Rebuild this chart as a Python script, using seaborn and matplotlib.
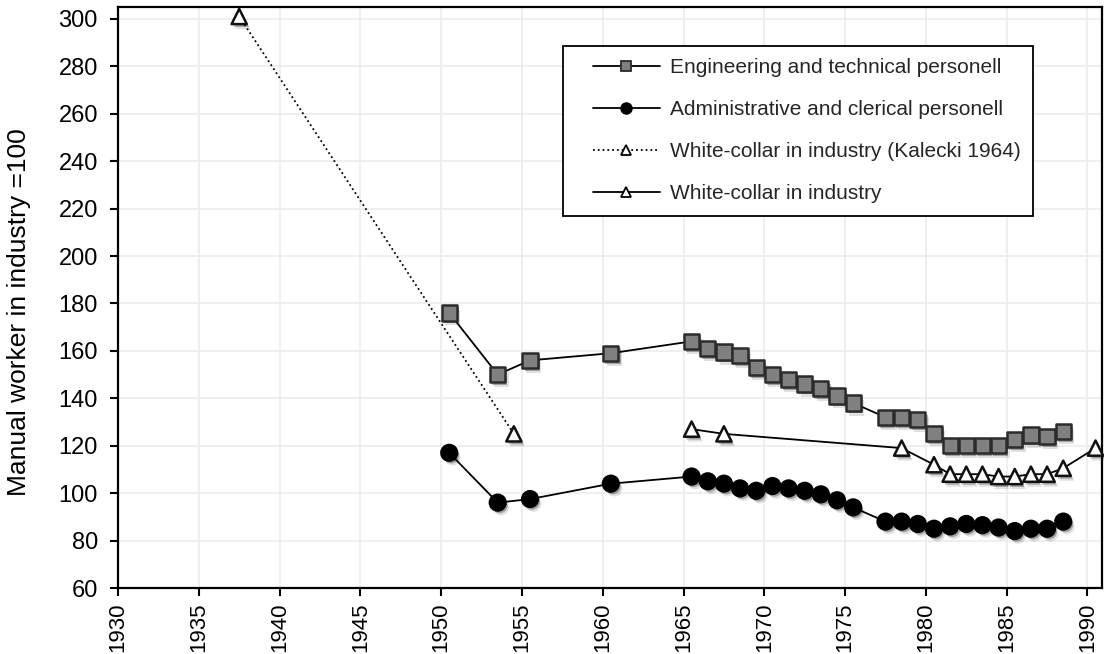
import numpy as np
import pandas as pd
import matplotlib
matplotlib.use("Agg")
import matplotlib.pyplot as plt
import matplotlib.patheffects as pe
from matplotlib.lines import Line2D
from matplotlib.legend_handler import HandlerLine2D
import seaborn as sns

# ---- data (index: manual worker in industry = 100) ----
eng_years = [1950.5, 1953.5, 1955.5, 1960.5,
             1965.5, 1966.5, 1967.5, 1968.5, 1969.5, 1970.5, 1971.5, 1972.5, 1973.5, 1974.5, 1975.5,
             1977.5, 1978.5, 1979.5, 1980.5, 1981.5, 1982.5, 1983.5, 1984.5, 1985.5, 1986.5, 1987.5, 1988.5]
engineering = [176, 150, 156, 159,
               164, 161, 159.5, 158, 153, 150, 148, 146, 144, 141, 138,
               132, 132, 131, 125, 120, 120, 120, 120, 122.5, 124.5, 124, 126]
administrative = [117, 96, 97.5, 104,
                  107, 105, 104, 102, 101, 103, 102, 101, 99.5, 97, 94,
                  88, 88, 87, 85, 86, 87, 86.5, 85.5, 84, 85, 85, 88]

kalecki_years = [1937.5, 1954.5]
kalecki = [301, 125]

wc_years = [1965.5, 1967.5, 1978.5, 1980.5, 1981.5, 1982.5, 1983.5, 1984.5,
            1985.5, 1986.5, 1987.5, 1988.5, 1990.5]
white_collar = [127, 125, 119, 112, 108, 108, 108, 107, 107, 108, 108, 110.5, 119]

labels = ["Engineering and technical personell",
          "Administrative and clerical personell",
          "White-collar in industry (Kalecki 1964)",
          "White-collar in industry"]

x_ticks = list(range(1930, 1991, 5))
y_ticks = list(range(60, 301, 20))

sns.set_theme(style="white")
plt.rcParams["font.family"] = ["Liberation Sans", "DejaVu Sans"]

fig = plt.figure(figsize=(11.04, 6.54), dpi=100)
ax = fig.add_axes([0.1069, 0.1009, 0.8913, 0.8884])

shadow = [pe.SimplePatchShadow(offset=(1.5, -2.0), shadow_rgbFace=(0, 0, 0), alpha=0.28),
          pe.SimplePatchShadow(offset=(2.5, -3.5), shadow_rgbFace=(0, 0, 0), alpha=0.12),
          pe.Normal()]

series = [
    dict(x=eng_years, y=engineering, ls="-", marker="s", face="#808080", edge="#2b2b2b", s=120),
    dict(x=eng_years, y=administrative, ls="-", marker="o", face="black", edge="black", s=128),
    dict(x=kalecki_years, y=kalecki, ls=":", marker="^", face="white", edge="#111111", s=120),
    dict(x=wc_years, y=white_collar, ls="-", marker="^", face="white", edge="#111111", s=120),
]

# connecting lines first, markers on top
for sd in series:
    df = pd.DataFrame({"year": sd["x"], "value": sd["y"]})
    sns.lineplot(data=df, x="year", y="value", ax=ax, color="black",
                 linewidth=1.3, linestyle=sd["ls"], sort=False, estimator=None, zorder=2)
for sd in series:
    df = pd.DataFrame({"year": sd["x"], "value": sd["y"]})
    sns.scatterplot(data=df, x="year", y="value", ax=ax, marker=sd["marker"],
                    s=sd["s"], color=sd["face"], edgecolor=sd["edge"],
                    linewidth=1.8, zorder=3, clip_on=False)
for coll in ax.collections:
    coll.set_path_effects(shadow)

ax.set_xlim(1930, 1990.9)
ax.set_ylim(60, 305)
ax.set_xticks(x_ticks)
ax.set_yticks(y_ticks)
ax.set_xticklabels([str(t) for t in x_ticks], rotation=90)
ax.tick_params(axis="both", colors="black", direction="out",
               length=5.5, width=1.5, bottom=True, left=True)
ax.tick_params(axis="y", labelsize=17, pad=9)
ax.tick_params(axis="x", labelsize=16, pad=5)
ax.grid(True, color="#ececec", linewidth=1.2)
for sp in ax.spines.values():
    sp.set_color("black")
    sp.set_linewidth(1.6)
ax.set_xlabel("")
ax.set_ylabel("Manual worker in industry =100", fontsize=19, color="black")
ax.yaxis.set_label_coords(-0.088, 0.475)

handles = [
    Line2D([], [], color="black", lw=1.3, ls="-", marker="s", markersize=7,
           markerfacecolor="#808080", markeredgecolor="#2b2b2b", markeredgewidth=1.3),
    Line2D([], [], color="black", lw=1.3, ls="-", marker="o", markersize=8,
           markerfacecolor="black", markeredgecolor="black"),
    Line2D([], [], color="black", lw=1.3, ls=":", marker="^", markersize=7,
           markerfacecolor="white", markeredgecolor="black", markeredgewidth=1.3),
    Line2D([], [], color="black", lw=1.3, ls="-", marker="^", markersize=7,
           markerfacecolor="white", markeredgecolor="black", markeredgewidth=1.3),
]
leg = ax.legend(handles, labels, loc="upper left", bbox_to_anchor=(0.452, 0.933),
                fontsize=15, frameon=True, fancybox=False, edgecolor="black",
                framealpha=1, borderpad=0.6, labelspacing=1.1, handlelength=4.06,
                handletextpad=0.48, borderaxespad=0,
                handler_map={Line2D: HandlerLine2D(xpad=0.84)})
leg.get_frame().set_linewidth(1.3)

fig.savefig("out.png", dpi=100)
